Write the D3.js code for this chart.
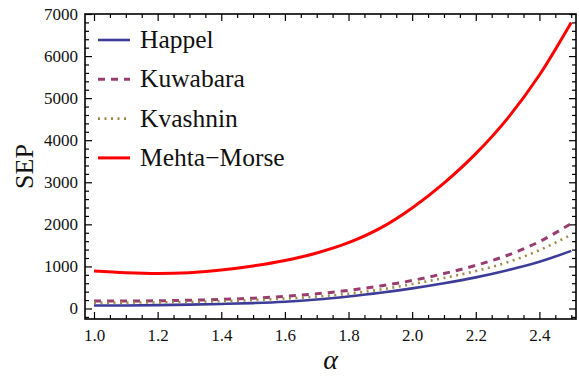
<!DOCTYPE html>
<html lang="en">
<meta charset="utf-8">
<title>SEP vs alpha</title>
<style>
  body { margin: 0; background: #fff; }
  text { font-family: "Liberation Serif", "Times New Roman", serif; }
  .axis path { display: none; }
  .axis line { stroke: #000; stroke-width: 1.2; }
  .axis text { font-size: 17px; fill: #111; }
</style>
<body>
<script src="https://d3js.org/d3.v7.min.js"></script>
<script>
  // data
  var alpha = [1.0, 1.1, 1.2, 1.3, 1.4, 1.5, 1.6, 1.7, 1.8, 1.9, 2.0, 2.1, 2.2, 2.3, 2.4, 2.5];
  var happel = [70, 72, 80, 92, 108, 128, 160, 212, 285, 372, 478, 600, 740, 910, 1110, 1370];
  var kuwabara = [180, 178, 182, 195, 215, 245, 290, 350, 430, 535, 665, 830, 1025, 1265, 1590, 2020];
  var kvashnin = [140, 140, 145, 157, 175, 200, 235, 282, 350, 450, 580, 725, 890, 1100, 1385, 1755];
  var mehtaMorse = [890, 850, 832, 850, 915, 1010, 1140, 1320, 1565, 1910, 2390, 2980, 3680, 4520, 5550, 6800];
  var seriesNames = ["Happel", "Kuwabara", "Kvashnin", "Mehta\u2212Morse"];
  var xTicks = [1.0, 1.2, 1.4, 1.6, 1.8, 2.0, 2.2, 2.4];
  var yTicks = [0, 1000, 2000, 3000, 4000, 5000, 6000, 7000];

  var series = [
    { name: seriesNames[0], values: happel, color: "#3d3d99", width: 2.6, dash: null },
    { name: seriesNames[1], values: kuwabara, color: "#993d71", width: 3, dash: "7,6" },
    { name: seriesNames[2], values: kvashnin, color: "#a08a4a", width: 2.6, dash: "2,4.5" },
    { name: seriesNames[3], values: mehtaMorse, color: "#ff0000", width: 3, dash: null }
  ];

  var W = 579, H = 377;
  var plotL = 85, plotR = 576, plotT = 14, plotB = 319;

  var svg = d3.select("body").append("svg")
    .attr("width", W)
    .attr("height", H);

  var x = d3.scaleLinear().domain([0.9717, 2.515]).range([plotL, plotR]);
  var y = d3.scaleLinear().domain([-250, 7000]).range([plotB, plotT]);

  var xMinor = d3.range(1.0, 2.5001, 0.05).filter(function(v) {
    return Math.abs(v * 5 - Math.round(v * 5)) > 1e-6;
  });
  var yMinor = d3.range(-200, 7001, 200).filter(function(v) { return v % 1000 !== 0; });

  // clip for curves
  svg.append("clipPath").attr("id", "plot")
    .append("rect")
    .attr("x", plotL).attr("y", plotT)
    .attr("width", plotR - plotL).attr("height", plotB - plotT);

  // axes: major ticks with labels on bottom/left, mirrored on top/right
  svg.append("g").attr("class", "axis")
    .attr("transform", "translate(0," + plotB + ")")
    .call(d3.axisBottom(x).tickValues(xTicks).tickFormat(d3.format(".1f"))
      .tickSizeInner(-7).tickSizeOuter(0).tickPadding(10));
  svg.append("g").attr("class", "axis")
    .attr("transform", "translate(0," + plotB + ")")
    .call(d3.axisBottom(x).tickValues(xMinor).tickFormat("").tickSizeInner(-4).tickSizeOuter(0));
  svg.append("g").attr("class", "axis")
    .attr("transform", "translate(0," + plotT + ")")
    .call(d3.axisTop(x).tickValues(xTicks).tickFormat("").tickSizeInner(-7).tickSizeOuter(0));
  svg.append("g").attr("class", "axis")
    .attr("transform", "translate(0," + plotT + ")")
    .call(d3.axisTop(x).tickValues(xMinor).tickFormat("").tickSizeInner(-4).tickSizeOuter(0));

  svg.append("g").attr("class", "axis")
    .attr("transform", "translate(" + plotL + ",0)")
    .call(d3.axisLeft(y).tickValues(yTicks).tickFormat(d3.format("d"))
      .tickSizeInner(-7).tickSizeOuter(0).tickPadding(7));
  svg.append("g").attr("class", "axis")
    .attr("transform", "translate(" + plotL + ",0)")
    .call(d3.axisLeft(y).tickValues(yMinor).tickFormat("").tickSizeInner(-4).tickSizeOuter(0));
  svg.append("g").attr("class", "axis")
    .attr("transform", "translate(" + plotR + ",0)")
    .call(d3.axisRight(y).tickValues(yTicks).tickFormat("").tickSizeInner(-7).tickSizeOuter(0));
  svg.append("g").attr("class", "axis")
    .attr("transform", "translate(" + plotR + ",0)")
    .call(d3.axisRight(y).tickValues(yMinor).tickFormat("").tickSizeInner(-4).tickSizeOuter(0));

  // frame
  svg.append("rect")
    .attr("x", plotL).attr("y", plotT)
    .attr("width", plotR - plotL).attr("height", plotB - plotT)
    .attr("fill", "none")
    .attr("stroke", "#000")
    .attr("stroke-width", 1.6);

  // curves
  var line = d3.line()
    .x(function(d) { return x(d[0]); })
    .y(function(d) { return y(d[1]); })
    .curve(d3.curveMonotoneX);

  svg.append("g").attr("clip-path", "url(#plot)")
    .selectAll("path")
    .data(series)
    .enter().append("path")
    .attr("d", function(s) {
      return line(alpha.map(function(a, i) { return [a, s.values[i]]; }));
    })
    .attr("fill", "none")
    .attr("stroke", function(s) { return s.color; })
    .attr("stroke-width", function(s) { return s.width; })
    .attr("stroke-dasharray", function(s) { return s.dash; });

  // legend
  var legend = svg.append("g")
    .selectAll("g")
    .data(series)
    .enter().append("g")
    .attr("transform", function(s, i) { return "translate(98," + (40 + i * 39.3) + ")"; });

  legend.append("line")
    .attr("x1", 0).attr("x2", 32)
    .attr("stroke", function(s) { return s.color; })
    .attr("stroke-width", function(s) { return s.width; })
    .attr("stroke-dasharray", function(s) { return s.dash; });

  legend.append("text")
    .attr("x", 42)
    .attr("y", 8)
    .attr("font-size", "25.5px")
    .attr("fill", "#111")
    .text(function(s) { return s.name; });

  // axis titles
  svg.append("text")
    .attr("transform", "translate(33," + ((plotT + plotB) / 2) + ") rotate(-90)")
    .attr("text-anchor", "middle")
    .attr("font-size", "26px")
    .attr("fill", "#111")
    .text("SEP");

  svg.append("text")
    .attr("x", (plotL + plotR) / 2)
    .attr("y", 369)
    .attr("text-anchor", "middle")
    .attr("font-size", "28px")
    .attr("font-style", "italic")
    .attr("fill", "#111")
    .text("\u03b1");
</script>
</body>
</html>
